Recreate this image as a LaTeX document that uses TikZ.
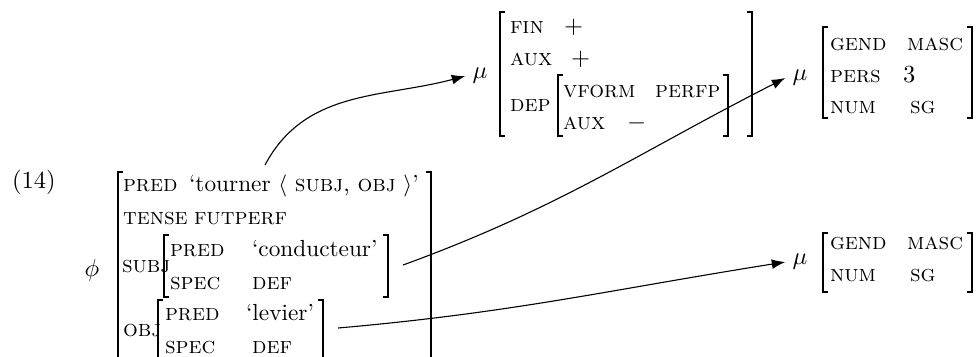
\documentclass[tikz,border=0pt]{standalone}
\usepackage{tikz}
\usetikzlibrary{arrows.meta,positioning}
\newcommand{\feat}[1]{{\fontsize{9.5}{11}\selectfont\scshape #1}}
\newcommand{\val}[1]{{\fontsize{9.5}{11}\selectfont #1}}
% square brackets of an attribute-value matrix: left, right, top, bottom
\newcommand{\avmbrackets}[4]{%
  \draw[brk] (#1+5,#3) -| (#1,#4) -- ++(5,0);
  \draw[brk] (#2-5,#3) -| (#2,#4) -- ++(-5,0);}

\begin{document}
\begin{tikzpicture}[x=0.408pt,y=-0.408pt,
    brk/.style={line width=1.1pt},
    lab/.style={inner sep=0pt,outer sep=0pt,anchor=base west},
    mu/.style={inner sep=3pt,outer sep=0pt},
    link/.style={-{Latex[length=5.5pt,width=4pt]},line width=0.45pt}]
  \useasboundingbox (0,0) rectangle (979,356);
  \node[lab] (ex) at (12,188) {(14)};
  % f-structure
  \node[mu] (phi) at (92,270) {$\phi$};
  \avmbrackets{118}{431}{172}{420}
  \node[lab] (f-pred) at (123,191) {\feat{pred}};
  \node[lab] (f-predv) at (189,191) {\val{`tourner $\langle$ \feat{subj}, \feat{obj} $\rangle$'}};
  \node[lab] (f-tense) at (123,224) {\feat{tense}};
  \node[lab] (f-tensev) at (194,224) {\feat{futperf}};
  \node[lab] (f-subj) at (122,272) {\feat{subj}};
  \avmbrackets{164}{388}{235}{297}
  \node[lab] (s-pred) at (170,256) {\feat{pred}};
  \node[lab] (s-predv) at (252,256) {\val{`conducteur'}};
  \node[lab] (s-spec) at (170,289) {\feat{spec}};
  \node[lab] (s-specv) at (252,289) {\feat{def}};
  \node[lab] (f-obj) at (123,336) {\feat{obj}};
  \avmbrackets{158}{323}{300}{420}
  \node[lab] (o-pred) at (165,320) {\feat{pred}};
  \node[lab] (o-predv) at (246,320) {\val{`levier'}};
  \node[lab] (o-spec) at (165,353) {\feat{spec}};
  \node[lab] (o-specv) at (252,353) {\feat{def}};
  % mu projections
  \node[mu] (mu1) at (480,76) {$\mu$};
  \avmbrackets{500}{752}{12}{136}
  \node[lab] (m-fin) at (510,33) {\feat{fin}};
  \node[lab] (m-finv) at (564,33) {$+$};
  \node[lab] (m-aux) at (510,65) {\feat{aux}};
  \node[lab] (m-auxv) at (571,65) {$+$};
  \node[lab] (m-dep) at (510,111) {\feat{dep}};
  \avmbrackets{558}{728}{75}{136}
  \node[lab] (d-vform) at (563,97) {\feat{vform}};
  \node[lab] (d-vformv) at (655,97) {\feat{perfp}};
  \node[lab] (d-aux) at (563,129) {\feat{aux}};
  \node[lab] (d-auxv) at (627,129) {$-$};
  \node[mu] (mu2) at (800,78) {$\mu$};
  \avmbrackets{823}{972}{27}{118}
  \node[lab] (a-gend) at (830,50) {\feat{gend}};
  \node[lab] (a-gendv) at (907,50) {\feat{masc}};
  \node[lab] (a-pers) at (830,82) {\feat{pers}};
  \node[lab] (a-persv) at (903,82) {3};
  \node[lab] (a-num) at (830,113) {\feat{num}};
  \node[lab] (a-numv) at (910,113) {\feat{sg}};
  \node[mu] (mu3) at (800,262) {$\mu$};
  \avmbrackets{823}{972}{233}{292}
  \node[lab] (b-gend) at (830,249) {\feat{gend}};
  \node[lab] (b-gendv) at (907,249) {\feat{masc}};
  \node[lab] (b-num) at (830,281) {\feat{num}};
  \node[lab] (b-numv) at (910,281) {\feat{sg}};
  % links from the f-structure to its projections
  \coordinate (tourner) at (265,165);
  \coordinate (subj) at (403,265);
  \coordinate (obj) at (338,328);
  \draw[link] (tourner) to[out=62,in=195] (mu1.west);
  \draw[link] (subj) to[out=20,in=207] (mu2.west);
  \draw[link] (obj) to[out=5,in=189] (mu3.west);
\end{tikzpicture}
\end{document}
